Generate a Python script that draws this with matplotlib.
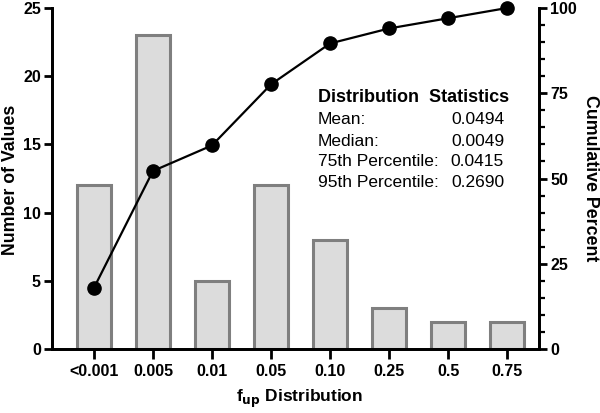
import matplotlib
matplotlib.use("Agg")
import matplotlib.pyplot as plt
from matplotlib.ticker import MultipleLocator

plt.rcParams['font.family'] = ['Liberation Sans', 'DejaVu Sans']

# data
categories = ['<0.001', '0.005', '0.01', '0.05', '0.10', '0.25', '0.5', '0.75']
counts = [12, 23, 5, 12, 8, 3, 2, 2]
cum_percent = [17.9, 52.2, 59.7, 77.6, 89.6, 94.0, 97.0, 100.0]
stat_names = ['Mean:', 'Median:', '75th Percentile:', '95th Percentile:']
stat_values = ['0.0494', '0.0049', '0.0415', '0.2690']

W, H = 600, 413
fig = plt.figure(figsize=(W/100, H/100), dpi=100)
ax = fig.add_axes([52/W, 1-349/H, 487/W, 341/H])
x = list(range(len(categories)))

ax.bar(x, counts, width=0.58, color='#dcdcdc', edgecolor='#7f7f7f', linewidth=2.2)
ax.set_xlim(-0.71, 7.54)
ax.set_ylim(0, 25)
ax.yaxis.set_major_locator(MultipleLocator(5))
ax.set_xticks(x)
ax.set_xticklabels(categories)

ax2 = ax.twinx()
ax2.plot(x, cum_percent, color='black', lw=1.6, marker='o', ms=9.5, clip_on=False, zorder=5)
ax2.set_ylim(0, 100)
ax2.yaxis.set_major_locator(MultipleLocator(25))
ax2.yaxis.set_minor_locator(MultipleLocator(5))

for a in (ax, ax2):
    for s in a.spines.values():
        s.set_linewidth(2)
    a.spines['top'].set_visible(False)
    a.tick_params(width=2, length=6, labelsize=11.5, pad=2)
    a.tick_params(which='minor', width=1.6, length=4)
    for lab in a.get_xticklabels() + a.get_yticklabels():
        lab.set_fontweight('bold')
ax.tick_params(axis='x', length=7, pad=4)

# axis titles placed by hand, like the reference
fig.text(11/W, 1-180/H, 'Number of Values', fontsize=12.8, fontweight='bold',
         rotation=90, ha='center', va='center')
fig.text(590/W, 1-178/H, 'Cumulative Percent', fontsize=12.8, fontweight='bold',
         rotation=270, ha='center', va='center')
fig.text(300/W, 1-399/H, 'f$_{\\mathbf{up}}$ Distribution', fontsize=12.5, fontweight='bold',
         ha='center', va='center')

# statistics table
fig.text(318/W, 1-98/H, 'Distribution  Statistics', fontsize=13, fontweight='bold', va='center')
for i, (n, v) in enumerate(zip(stat_names, stat_values)):
    yy = 1 - (120 + 21*i)/H
    fig.text(318/W, yy, n, fontsize=12.5, va='center')
    fig.text(504/W, yy, v, fontsize=12.5, va='center', ha='right')

fig.savefig('out.png', dpi=100)
